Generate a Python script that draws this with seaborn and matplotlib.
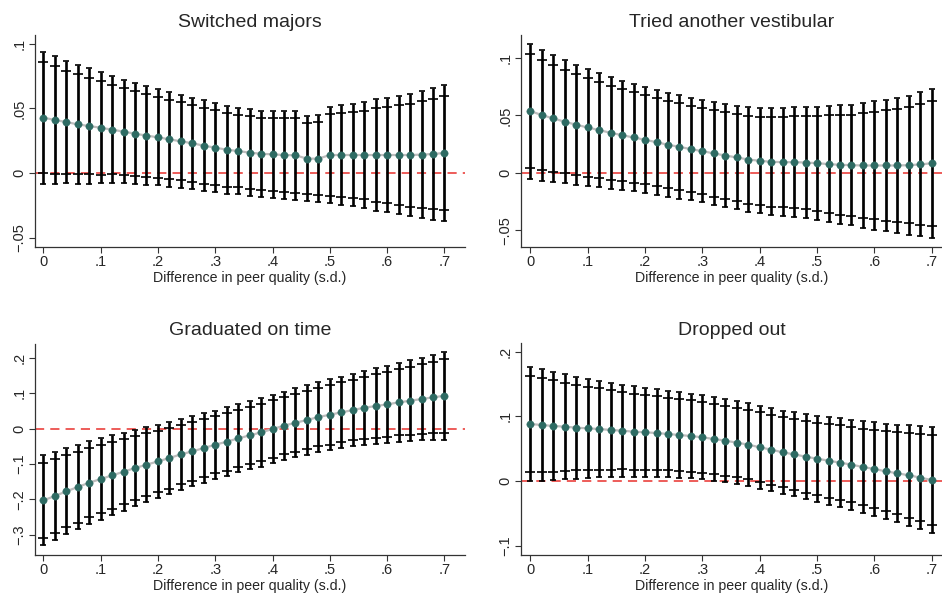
import numpy as np
import pandas as pd
import matplotlib
matplotlib.use("Agg")
import matplotlib.pyplot as plt
import seaborn as sns

# ---------------- data ----------------
peer_diff = [round(0.02 * i, 2) for i in range(36)]

switched_est = [0.0428, 0.0410, 0.0394, 0.0376, 0.0363, 0.0350, 0.0335, 0.0320, 0.0304, 0.0289,
                0.0276, 0.0260, 0.0245, 0.0230, 0.0211, 0.0196, 0.0180, 0.0170, 0.0157, 0.0149,
                0.0144, 0.0139, 0.0137, 0.0111, 0.0111, 0.0139, 0.0139, 0.0139, 0.0139, 0.0139,
                0.0139, 0.0139, 0.0139, 0.0142, 0.0147, 0.0155]
switched_se = [0.0260, 0.0254, 0.0242, 0.0235, 0.0227, 0.0220, 0.0210, 0.0204, 0.0199, 0.0195,
               0.0189, 0.0187, 0.0183, 0.0180, 0.0179, 0.0176, 0.0174, 0.0171, 0.0171, 0.0170,
               0.0171, 0.0172, 0.0176, 0.0167, 0.0171, 0.0191, 0.0199, 0.0202, 0.0209, 0.0220,
               0.0226, 0.0234, 0.0242, 0.0251, 0.0259, 0.0267]

vestib_est = [0.0538, 0.0503, 0.0474, 0.0445, 0.0419, 0.0395, 0.0372, 0.0349, 0.0328, 0.0308,
              0.0288, 0.0267, 0.0244, 0.0227, 0.0206, 0.0189, 0.0169, 0.0151, 0.0134, 0.0116,
              0.0105, 0.0096, 0.0093, 0.0093, 0.0090, 0.0084, 0.0076, 0.0070, 0.0067, 0.0064,
              0.0064, 0.0064, 0.0064, 0.0067, 0.0073, 0.0084]
vestib_se = [0.0300, 0.0291, 0.0282, 0.0274, 0.0267, 0.0260, 0.0254, 0.0248, 0.0243, 0.0239,
             0.0236, 0.0233, 0.0231, 0.0230, 0.0228, 0.0228, 0.0230, 0.0230, 0.0230, 0.0233,
             0.0234, 0.0237, 0.0240, 0.0245, 0.0248, 0.0252, 0.0258, 0.0264, 0.0268, 0.0276,
             0.0285, 0.0292, 0.0300, 0.0309, 0.0320, 0.0332]

grad_est = [-0.2028, -0.1906, -0.1774, -0.1651, -0.1528, -0.1425, -0.1321, -0.1217, -0.1113, -0.1019,
            -0.0925, -0.0830, -0.0726, -0.0642, -0.0547, -0.0453, -0.0368, -0.0274, -0.0189, -0.0104,
            -0.0009, 0.0085, 0.0170, 0.0245, 0.0330, 0.0396, 0.0462, 0.0528, 0.0594, 0.0642,
            0.0689, 0.0745, 0.0792, 0.0840, 0.0887, 0.0934]
grad_se = [0.0650, 0.0635, 0.0621, 0.0611, 0.0597, 0.0587, 0.0578, 0.0563, 0.0549, 0.0539,
           0.0529, 0.0525, 0.0510, 0.0505, 0.0501, 0.0491, 0.0496, 0.0491, 0.0491, 0.0496,
           0.0496, 0.0491, 0.0496, 0.0505, 0.0505, 0.0515, 0.0515, 0.0520, 0.0534, 0.0544,
           0.0558, 0.0568, 0.0582, 0.0597, 0.0616, 0.0635]

drop_est = [0.0881, 0.0866, 0.0851, 0.0840, 0.0825, 0.0814, 0.0804, 0.0789, 0.0778, 0.0763,
            0.0753, 0.0742, 0.0727, 0.0711, 0.0696, 0.0675, 0.0649, 0.0624, 0.0593, 0.0562,
            0.0521, 0.0485, 0.0443, 0.0412, 0.0376, 0.0345, 0.0314, 0.0284, 0.0253, 0.0216,
            0.0186, 0.0149, 0.0119, 0.0088, 0.0052, 0.0015]
drop_se = [0.0452, 0.0439, 0.0429, 0.0413, 0.0402, 0.0392, 0.0381, 0.0373, 0.0363, 0.0358,
           0.0352, 0.0347, 0.0342, 0.0337, 0.0334, 0.0331, 0.0331, 0.0329, 0.0326, 0.0326,
           0.0329, 0.0329, 0.0329, 0.0331, 0.0337, 0.0339, 0.0347, 0.0350, 0.0355, 0.0360,
           0.0368, 0.0376, 0.0384, 0.0397, 0.0408, 0.0421]

titles = ["Switched majors", "Tried another vestibular", "Graduated on time", "Dropped out"]
x_ticks = [0, 0.1, 0.2, 0.3, 0.4, 0.5, 0.6, 0.7]
x_ticklabels = ["0", ".1", ".2", ".3", ".4", ".5", ".6", ".7"]
y_ticks_list = [[-0.05, 0, 0.05, 0.1], [-0.05, 0, 0.05, 0.1],
                [-0.3, -0.2, -0.1, 0, 0.1, 0.2], [-0.1, 0, 0.1, 0.2]]
y_ticklabels_list = [["\u2212.05", "0", ".05", ".1"], ["\u2212.05", "0", ".05", ".1"],
                     ["\u2212.3", "\u2212.2", "\u2212.1", "0", ".1", ".2"],
                     ["\u2212.1", "0", ".1", ".2"]]
xlabel = "Difference in peer quality (s.d.)"

# ---------------- style ----------------
sns.set_style("white")
plt.rcParams['font.family'] = ['Liberation Sans', 'DejaVu Sans']

fig = plt.figure(figsize=(9.42, 5.96), dpi=100)
positions = [
    [0.0372, 0.5856, 0.4565, 0.3557],
    [0.5531, 0.5856, 0.4470, 0.3557],
    [0.0372, 0.0693, 0.4565, 0.3540],
    [0.5531, 0.0693, 0.4470, 0.3552],
]
xlims = [(-0.0145, 0.736), (-0.0163, 0.718), (-0.0145, 0.736), (-0.0163, 0.718)]
ylims = [(-0.0572, 0.1067), (-0.0646, 0.1201), (-0.3566, 0.2406), (-0.114, 0.2134)]

ests = [switched_est, vestib_est, grad_est, drop_est]
ses = [switched_se, vestib_se, grad_se, drop_se]

z95, z90 = 1.96, 1.645
marker_col = "#2e6b63"
line_col = "#bdbdbd"

for i in range(4):
    ax = fig.add_axes(positions[i])
    df = pd.DataFrame({"x": peer_diff, "est": ests[i], "se": ses[i]})
    df["lo95"] = df["est"] - z95 * df["se"]
    df["hi95"] = df["est"] + z95 * df["se"]
    df["lo90"] = df["est"] - z90 * df["se"]
    df["hi90"] = df["est"] + z90 * df["se"]

    ax.axhline(0, color="#e8302c", lw=1.1, ls=(0, (6, 4)), zorder=1)

    # 95% CI: thick bar with small caps
    ax.errorbar(df["x"], df["est"],
                yerr=[df["est"] - df["lo95"], df["hi95"] - df["est"]],
                fmt="none", ecolor="black", elinewidth=1.9, capsize=2.2, capthick=1.2, zorder=2)
    # 90% CI: wider caps
    ax.errorbar(df["x"], df["est"],
                yerr=[df["est"] - df["lo90"], df["hi90"] - df["est"]],
                fmt="none", ecolor="black", elinewidth=1.0, capsize=3.8, capthick=1.2, zorder=2)

    sns.lineplot(data=df, x="x", y="est", ax=ax, color=line_col, lw=1.6, zorder=3,
                 estimator=None, sort=False)
    sns.scatterplot(data=df, x="x", y="est", ax=ax, color=marker_col, s=28,
                    edgecolor=marker_col, linewidth=0.3, zorder=4)

    ax.set_xlim(*xlims[i])
    ax.set_ylim(*ylims[i])
    ax.set_xticks(x_ticks)
    ax.set_xticklabels(x_ticklabels, fontsize=10.5)
    ax.set_yticks(y_ticks_list[i])
    ax.set_yticklabels(y_ticklabels_list[i], fontsize=10.5, rotation=90, va="center")
    ax.set_xlabel(xlabel, fontsize=10.2, labelpad=1.5)
    ax.set_ylabel("")
    ax.set_title(titles[i], fontsize=14, pad=6)
    sns.despine(ax=ax)
    for s in ["left", "bottom"]:
        ax.spines[s].set_color("#333333")
        ax.spines[s].set_linewidth(0.9)
    ax.tick_params(axis="both", which="major", length=4, width=0.8, color="#333333",
                   pad=2, direction="out", bottom=True, left=True)

fig.savefig("out.png", dpi=100)
